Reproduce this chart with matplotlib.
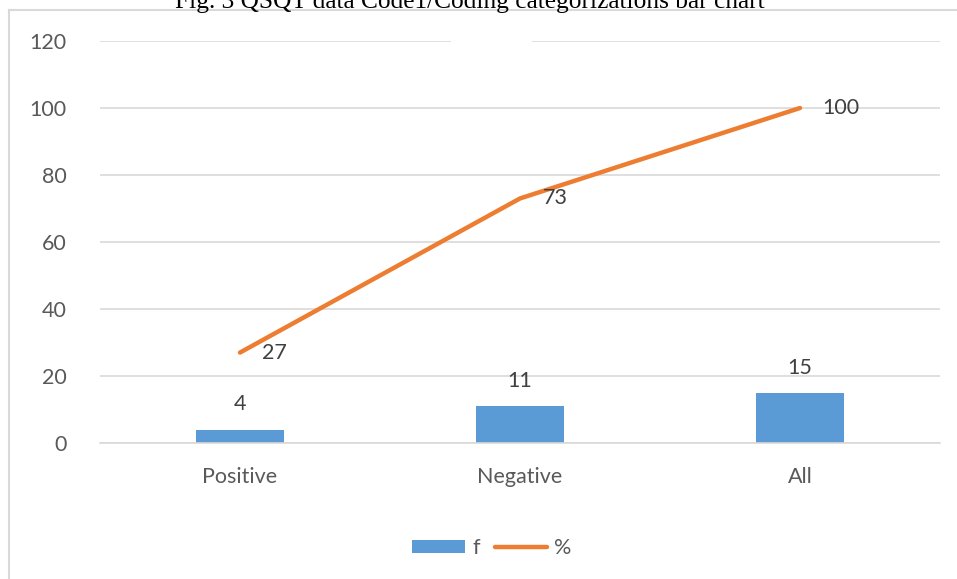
import matplotlib.pyplot as plt
from matplotlib.patches import Rectangle
import numpy as np

plt.rcParams['font.family'] = ['Lato', 'DejaVu Sans']

# datos del gráfico
categorias = ['Positive', 'Negative', 'All']
frecuencias = [4, 11, 15]
porcentajes = [27, 73, 100]
marcas_y = [0, 20, 40, 60, 80, 100, 120]

azul = '#5b9bd5'
naranja = '#ed7d31'
gris = '#d9d9d9'

W, H = 957, 579
fig = plt.figure(figsize=(W / 100, H / 100), dpi=100)

# marco exterior del gráfico (solo se ven el borde izquierdo y el superior)
fig.add_artist(plt.Line2D([9 / W, 9 / W], [0, 1 - 10 / H], color=gris, lw=1.5,
                          transform=fig.transFigure))
fig.add_artist(plt.Line2D([9 / W, 1], [1 - 10 / H, 1 - 10 / H], color=gris, lw=1.5,
                          transform=fig.transFigure))

# título cortado arriba
fig.text(470 / W, 1 - 8 / H, 'Fig. 3 QSQT data Code1/Coding categorizations bar chart',
         ha='center', va='baseline', fontsize=18.3, family='Liberation Serif', color='black')

ax = fig.add_axes([100 / W, (H - 443) / H, 840 / W, 402 / H])
x = np.arange(len(categorias))

barras = ax.bar(x, frecuencias, width=0.314, color=azul, label='f', zorder=2)
linea, = ax.plot(x, porcentajes, color=naranja, lw=3.2, solid_capstyle='round',
                 label='%', zorder=3)

for xi, v in zip(x, frecuencias):
    ax.text(xi, v + 7.5, str(v), ha='center', va='center', fontsize=15.5, color='#404040')
for xi, v in zip(x, porcentajes):
    ax.text(xi + 0.08, v, str(v), ha='left', va='center', fontsize=15.5, color='#404040')

ax.set_xlim(-0.5, 2.5)
ax.set_ylim(0, 120)
ax.set_yticks(marcas_y)
ax.set_xticks(x)
ax.set_xticklabels(categorias)
ax.tick_params(axis='both', length=0, labelsize=15.5, labelcolor='#595959')
ax.tick_params(axis='y', pad=24)
ax.tick_params(axis='x', pad=17)
ax.grid(axis='y', color=gris, lw=1.2, zorder=0)
ax.set_axisbelow(True)
for s in ax.spines.values():
    s.set_visible(False)
ax.spines['bottom'].set_visible(True)
ax.spines['bottom'].set_color(gris)
ax.spines['bottom'].set_linewidth(1.2)
ax.set_facecolor('none')

# hueco blanco sobre la línea de 120
fig.add_artist(Rectangle((451 / W, 1 - 48 / H), 81 / W, 16 / H, facecolor='white',
                         edgecolor='none', transform=fig.transFigure, zorder=5))

fig.legend([barras, linea], ['f', '%'], loc='center', bbox_to_anchor=(492 / W, 1 - 548 / H),
           ncol=2, frameon=False, fontsize=15.5, handlelength=2.45, handleheight=0.6,
           columnspacing=0.7, handletextpad=0.33, labelcolor='#595959')

plt.savefig('out.png', dpi=100)
